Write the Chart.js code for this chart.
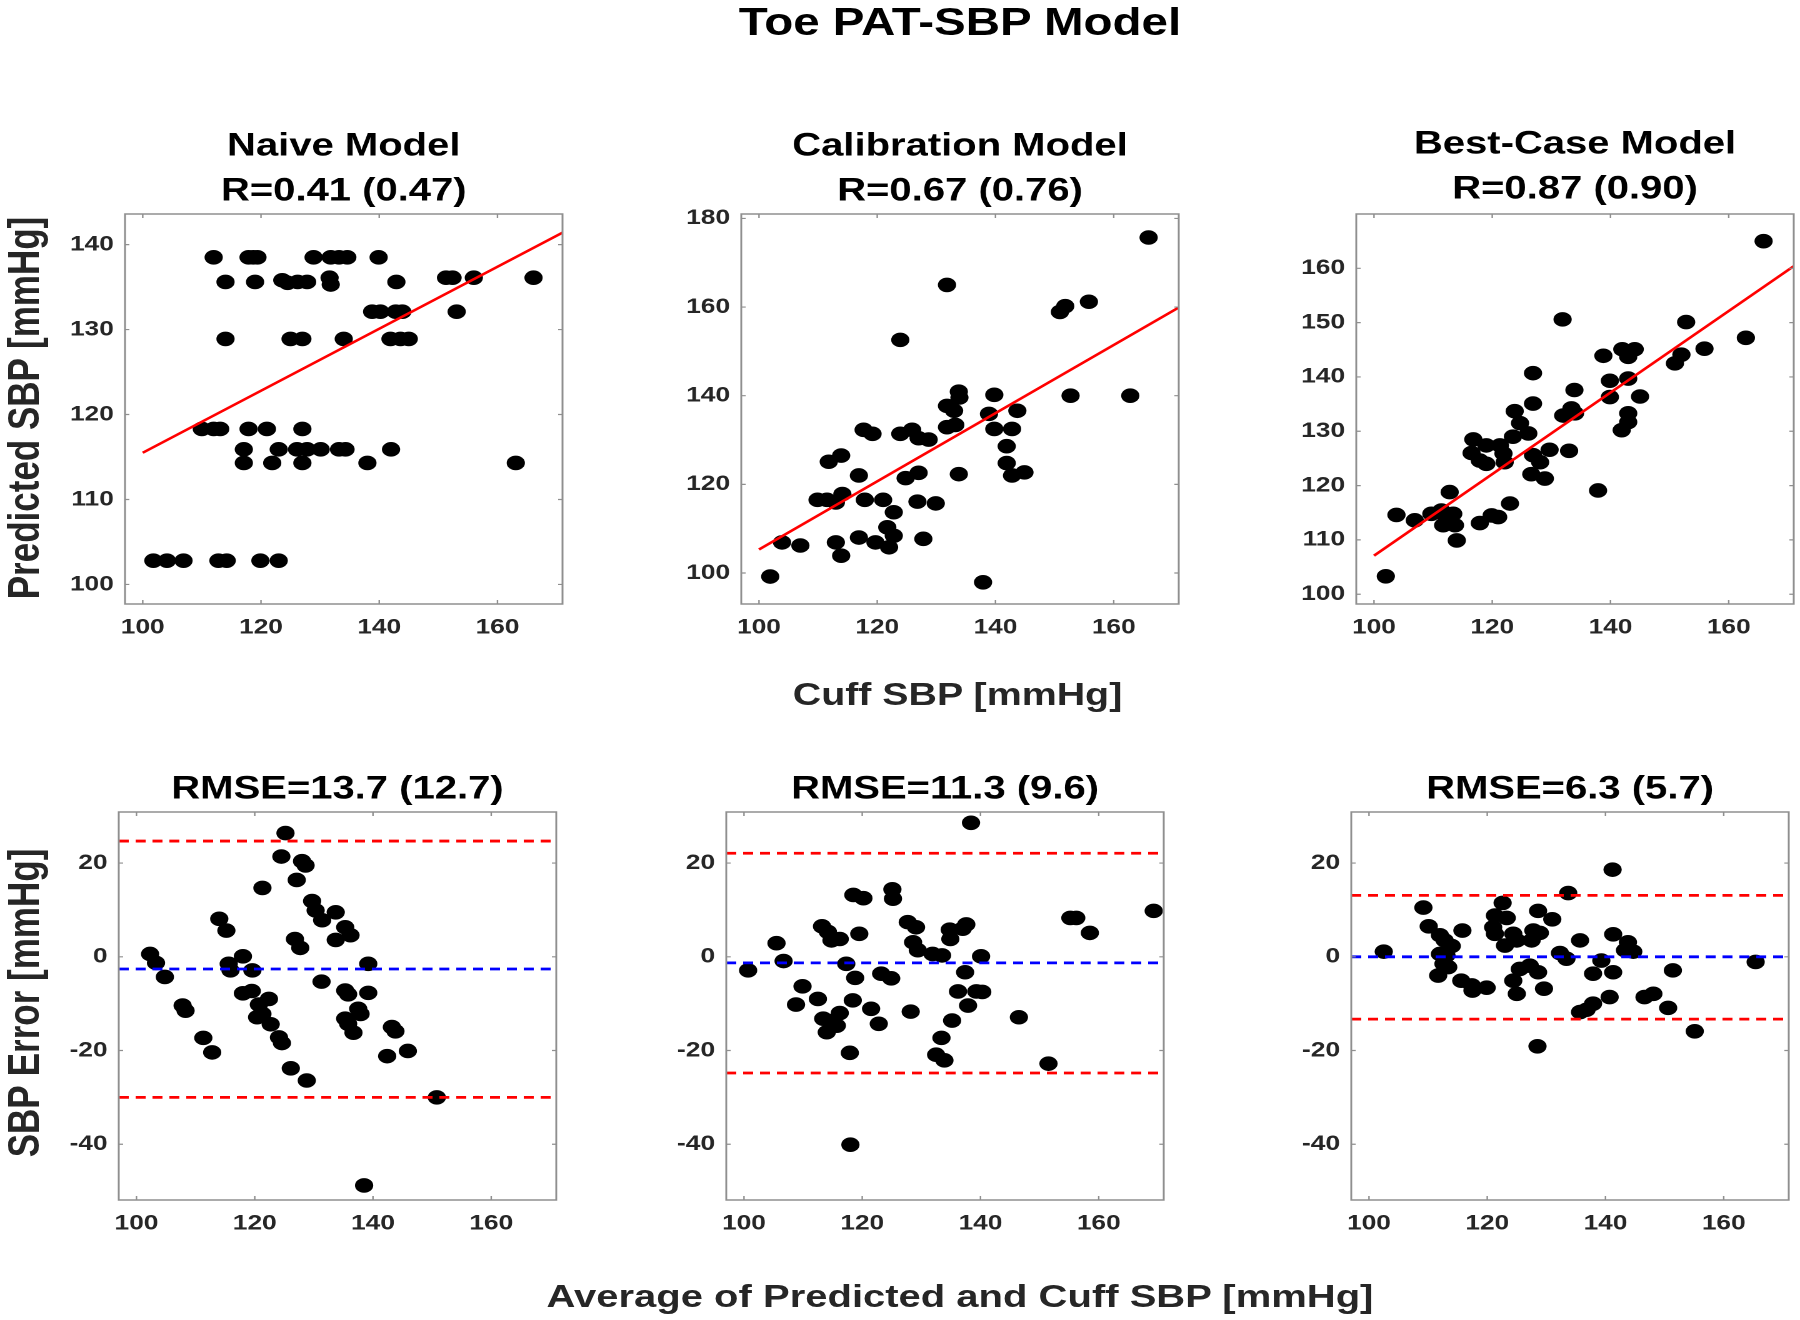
<!DOCTYPE html>
<html>
<head>
<meta charset="utf-8">
<title>Toe PAT-SBP Model</title>
<script src="https://cdn.jsdelivr.net/npm/chart.js@4.4.1/dist/chart.umd.min.js"></script>
<style>
  html, body { margin: 0; padding: 0; background: #fff; overflow: hidden; }
  body { width: 1800px; height: 1320px; }
  /* the source figure is stretched sideways, so draw narrow and widen it */
  #fig { position: relative; width: 1440px; height: 1320px; transform: scaleX(1.25); transform-origin: 0 0;
         font-family: "Liberation Sans", Arial, sans-serif; font-weight: bold; }
  .panel { position: absolute; }
  .lbl { position: absolute; white-space: nowrap; line-height: 1; }
  .ctr { transform: translateX(-50%); }
  .rot { transform: translate(-50%, -50%) rotate(-90deg); }
</style>
</head>
<body>
<div id="fig">
  <div class="lbl ctr" style="left:768px;top:3px;font-size:38px;color:#000">Toe PAT-SBP Model</div>
  <div class="lbl ctr" style="left:766px;top:678.5px;font-size:31.5px;color:#262626">Cuff SBP [mmHg]</div>
  <div class="lbl ctr" style="left:768px;top:1280px;font-size:32px;color:#262626">Average of Predicted and Cuff SBP [mmHg]</div>
  <div class="lbl rot" style="left:19px;top:408px;font-size:35px;color:#262626">Predicted SBP [mmHg]</div>
  <div class="lbl rot" style="left:19px;top:1003px;font-size:35px;color:#262626">SBP Error [mmHg]</div>

  <div class="panel" style="left:40px;top:124px"><canvas id="c1" width="420" height="520"></canvas></div>
  <div class="panel" style="left:532.6px;top:124px"><canvas id="c2" width="420" height="520"></canvas></div>
  <div class="panel" style="left:1024.8px;top:122px"><canvas id="c3" width="420" height="522"></canvas></div>
  <div class="panel" style="left:35.4px;top:767px"><canvas id="c4" width="420" height="473"></canvas></div>
  <div class="panel" style="left:521.4px;top:767px"><canvas id="c5" width="420" height="473"></canvas></div>
  <div class="panel" style="left:1020.8px;top:767px"><canvas id="c6" width="420" height="473"></canvas></div>
</div>

<script>
// x range shared by all six panels
const X_MIN = 97, X_MAX = 171;
const xTicks = [100, 120, 140, 160];
const yTicksNaive = [100, 110, 120, 130, 140];
const yTicksCalib = [100, 120, 140, 160, 180];
const yTicksBest = [100, 110, 120, 130, 140, 150, 160];
const yTicksErr = [-40, -20, 0, 20];

// top row: [cuff SBP, predicted SBP]
const naivePts = [
  [112.0,138.5],[117.9,138.5],[118.7,138.5],[119.4,138.5],[128.9,138.5],[131.8,138.5],[133.2,138.5],[134.6,138.5],[139.9,138.5],
  [114.0,135.6],[119.0,135.6],[123.6,135.8],[124.5,135.5],[126.2,135.6],[127.8,135.6],[131.6,136.1],[131.8,135.3],[142.9,135.6],
  [151.3,136.1],[152.4,136.1],[156.0,136.1],[166.1,136.1],
  [138.8,132.1],[140.2,132.1],[142.8,132.1],[143.9,132.1],[153.1,132.1],
  [114.0,128.9],[125.0,128.9],[127.0,128.9],[134.0,128.9],[141.9,128.9],[143.6,128.9],[145.0,128.9],
  [110.0,118.3],[112.0,118.3],[113.1,118.3],[117.9,118.3],[121.0,118.3],[127.0,118.3],
  [117.1,115.9],[123.0,115.9],[126.1,115.9],[127.8,115.9],[130.1,115.9],[133.2,115.9],[134.3,115.9],[142.0,115.9],
  [117.1,114.3],[121.9,114.3],[127.0,114.3],[138.0,114.3],[163.1,114.3],
  [101.8,102.8],[104.1,102.8],[106.9,102.8],[112.8,102.8],[114.2,102.8],[119.9,102.8],[123.0,102.8]
];
const calibPts = [
  [165.9,175.7],[131.8,165.0],[150.9,158.9],[151.8,160.2],[155.8,161.2],[123.9,152.6],
  [133.8,140.9],[133.9,139.6],[139.8,140.2],[152.7,140.0],[162.8,140.0],
  [131.8,137.7],[133.0,136.6],[138.9,135.9],[143.7,136.6],
  [131.8,132.9],[133.2,133.4],[139.8,132.5],[142.8,132.5],
  [117.7,132.3],[119.2,131.4],[123.9,131.4],[125.9,132.3],[127.0,130.4],[128.7,130.1],
  [141.9,128.6],[141.9,124.8],[142.8,122.0],[144.9,122.7],[133.8,122.3],
  [111.8,125.1],[113.9,126.5],[116.9,122.0],[124.8,121.4],[127.0,122.6],
  [109.9,116.5],[111.5,116.5],[113.0,115.9],[114.1,117.8],[117.9,116.5],[121.0,116.5],[126.8,116.1],[129.9,115.7],
  [122.8,113.7],[121.7,110.3],[122.8,108.4],[122.0,105.8],[119.7,106.9],[116.9,108.0],[127.8,107.7],
  [113.0,106.9],[113.9,103.9],[103.9,106.9],[107.0,106.2],[101.9,99.2],[137.9,97.9]
];
const bestPts = [
  [165.9,165.0],[131.9,150.6],[152.8,150.1],[162.9,147.2],[155.9,145.2],[150.9,142.5],[152.0,144.1],
  [138.8,143.9],[142.0,145.1],[143.0,143.7],[144.1,145.1],[126.9,140.7],[139.9,139.3],[139.9,136.3],
  [143.0,139.7],[145.0,136.4],[133.9,137.6],[126.9,135.1],[123.8,133.7],[132.0,132.9],[133.4,134.2],[134.0,133.3],
  [143.0,133.3],[143.0,131.7],[141.9,130.2],[124.7,131.5],[126.1,129.6],[123.5,129.0],
  [116.8,128.5],[119.0,127.4],[121.3,127.4],[121.9,125.9],[122.1,124.3],[116.5,126.0],[117.9,124.6],[119.0,124.0],
  [129.7,126.6],[133.0,126.4],[126.9,125.6],[128.1,124.3],[126.6,122.1],[128.9,121.3],[137.9,119.1],
  [112.8,118.8],[123.0,116.7],[103.8,114.6],[106.9,113.6],[109.7,114.8],[111.4,115.4],[112.3,113.9],[113.4,114.8],
  [111.7,112.7],[113.7,112.7],[114.0,109.9],[117.9,113.1],[119.9,114.5],[121.0,114.2],[102.0,103.3]
];
// fitted lines, read at both ends
const naiveFit = [[100, 115.5], [171, 141.4]];
const calibFit = [[100, 105.3], [171, 159.9]];
const bestFit = [[100, 107.1], [171, 160.4]];

// bottom row: [average SBP, error]
const naiveErr = [
  [125.2,26.4],[124.5,21.4],[128.0,20.4],[128.6,19.5],[127.1,16.4],[121.3,14.7],[129.7,11.9],[130.3,9.9],[131.4,7.8],
  [133.7,9.5],[135.3,6.3],[136.2,4.6],[133.7,3.6],[114.0,8.1],[115.2,5.6],[126.8,3.8],[127.7,1.9],
  [102.3,0.6],[103.3,-1.3],[104.8,-4.3],[115.6,-1.5],[115.9,-2.9],[118.0,0.1],[119.6,-2.9],[139.2,-1.5],
  [131.3,-5.3],[135.3,-7.2],[135.8,-8.0],[139.2,-7.7],[118.0,-7.8],[119.5,-7.3],
  [122.4,-9.0],[120.7,-10.2],[121.3,-12.2],[120.4,-12.9],[122.7,-14.4],[107.8,-10.4],[108.3,-11.5],
  [137.5,-11.1],[137.9,-12.2],[135.3,-13.2],[135.8,-14.3],[136.7,-16.2],[143.2,-15.0],[143.8,-15.9],
  [111.3,-17.3],[112.8,-20.4],[124.1,-17.2],[124.6,-18.4],[142.4,-21.2],[145.9,-20.1],[126.1,-23.8],[128.8,-26.4],
  [150.8,-30.0],[138.5,-48.8]
];
const calibErr = [
  [138.4,28.6],[118.5,13.2],[120.2,12.5],[125.1,14.4],[125.2,12.4],[169.3,9.8],[155.2,8.3],[156.2,8.3],[158.5,5.1],
  [113.2,6.5],[114.2,5.3],[114.8,3.5],[116.2,3.8],[105.5,2.9],[106.7,-0.9],[119.5,4.9],
  [127.7,7.4],[129.1,6.3],[128.6,3.1],[129.4,1.4],[131.9,0.6],[133.5,0.3],[134.8,5.8],[134.9,3.8],[137.6,6.9],[137.0,6.0],
  [140.1,0.1],[100.7,-2.9],[117.3,-1.5],[118.8,-4.5],[123.2,-3.6],[124.9,-4.6],[137.4,-3.3],[109.9,-6.3],
  [136.2,-7.4],[139.3,-7.4],[140.3,-7.5],[137.9,-10.4],[108.8,-10.2],[112.5,-9.0],[118.4,-9.3],[121.5,-11.1],[128.2,-11.7],
  [113.4,-13.2],[116.2,-12.0],[114.0,-16.1],[115.7,-14.7],[114.8,-13.7],[122.8,-14.3],[135.2,-13.6],[146.5,-12.9],
  [133.4,-17.3],[132.5,-20.9],[133.9,-22.1],[117.9,-20.5],[151.5,-22.8],[118.0,-40.1]
];
const bestErr = [
  [102.5,1.1],[109.2,10.5],[110.1,6.5],[112.0,4.6],[112.8,3.5],[114.0,2.3],[113.1,0.3],[112.0,0.6],[112.6,-1.5],[111.7,-4.0],[113.4,-2.2],
  [115.8,5.6],[115.6,-5.1],[117.4,-6.1],[117.5,-7.2],[119.9,-6.6],[122.6,11.5],[121.3,8.8],[123.3,8.3],[121.0,6.3],[121.3,4.9],
  [123.0,2.4],[124.4,4.9],[125.0,3.5],[128.6,9.8],[131.0,8.0],[127.8,5.6],[128.9,5.1],[127.5,3.5],[132.3,0.8],[133.4,-0.4],
  [133.7,13.6],[135.7,3.5],[139.3,-0.8],[137.9,-3.6],[141.3,-3.3],[141.2,18.6],[141.3,4.8],[143.8,3.1],[143.3,1.4],[144.7,1.1],
  [124.4,-5.1],[125.5,-2.6],[127.2,-1.9],[128.6,-3.3],[125.0,-7.9],[129.6,-6.8],[140.7,-8.6],[137.9,-10.0],[136.8,-11.3],[135.7,-11.8],
  [146.6,-8.6],[148.1,-7.9],[151.4,-2.9],[150.6,-10.9],[155.1,-15.9],[128.5,-19.1],[165.4,-1.1]
];
// limits of agreement: [upper, mean, lower]
const naiveLoA = [24.7, -2.6, -30.0];
const calibLoA = [22.1, -1.3, -24.8];
const bestLoA = [13.1, 0.0, -13.3];

Chart.defaults.font.family = '"Liberation Sans", Arial, sans-serif';

// matlab style box with inward ticks on all four sides
const boxTicks = {
  id: 'boxTicks',
  afterDraw(chart) {
    const { ctx, chartArea: a, scales: { x, y } } = chart;
    ctx.save();
    ctx.strokeStyle = '#8f8f8f';
    ctx.lineWidth = 1.5;
    ctx.strokeRect(a.left, a.top, a.right - a.left, a.bottom - a.top);
    ctx.lineWidth = 1.2;
    ctx.beginPath();
    x.ticks.forEach(t => {
      const px = x.getPixelForValue(t.value);
      ctx.moveTo(px, a.bottom); ctx.lineTo(px, a.bottom - 4);
      ctx.moveTo(px, a.top); ctx.lineTo(px, a.top + 4);
    });
    y.ticks.forEach(t => {
      const py = y.getPixelForValue(t.value);
      ctx.moveTo(a.left, py); ctx.lineTo(a.left + 3.5, py);
      ctx.moveTo(a.right, py); ctx.lineTo(a.right - 3.5, py);
    });
    ctx.stroke();
    ctx.restore();
  }
};

const toXY = pts => pts.map(([x, y]) => ({ x, y }));

function panel(id, cfg) {
  const lineSets = cfg.lines.map(l => ({
    type: 'line',
    data: toXY(l.data),
    borderColor: l.color,
    borderWidth: l.dash ? 2.8 : 2.5,
    borderDash: l.dash || [],
    pointRadius: 0,
    fill: false,
    order: 1
  }));
  return new Chart(document.getElementById(id), {
    type: 'scatter',
    data: {
      datasets: [{
        data: toXY(cfg.points),
        pointRadius: 7.3,
        pointHoverRadius: 7.3,
        pointBackgroundColor: '#000',
        pointBorderWidth: 0,
        order: 2
      }, ...lineSets]
    },
    options: {
      responsive: false,
      animation: false,
      devicePixelRatio: 2,
      layout: { padding: { left: 0, right: 10, top: 0, bottom: 0 } },
      plugins: {
        legend: { display: false },
        tooltip: { enabled: false },
        title: {
          display: true,
          fullSize: false,
          text: cfg.title,
          color: '#000',
          font: { size: 32, weight: 'bold', lineHeight: '45px' },
          padding: { top: 0, bottom: cfg.titlePad }
        }
      },
      scales: {
        x: {
          type: 'linear', min: X_MIN, max: X_MAX,
          grid: { display: false, drawTicks: false },
          border: { display: false },
          afterBuildTicks: s => { s.ticks = xTicks.map(v => ({ value: v })); },
          afterFit: s => { s.height = 40; },
          ticks: { padding: 11, maxRotation: 0, color: '#262626', font: { size: 21, weight: 'bold' } }
        },
        y: {
          type: 'linear', min: cfg.yMin, max: cfg.yMax,
          grid: { display: false, drawTicks: false },
          border: { display: false },
          afterBuildTicks: s => { s.ticks = cfg.yTicks.map(v => ({ value: v })); },
          afterFit: s => { s.width = 60; },
          ticks: { padding: 9, color: '#262626', font: { size: 21, weight: 'bold' } }
        }
      }
    },
    plugins: [boxTicks]
  });
}

const loaLines = loa => [
  { data: [[X_MIN, loa[0]], [X_MAX, loa[0]]], color: '#ff0000', dash: [8, 5.5] },
  { data: [[X_MIN, loa[1]], [X_MAX, loa[1]]], color: '#0000ff', dash: [8, 5.5] },
  { data: [[X_MIN, loa[2]], [X_MAX, loa[2]]], color: '#ff0000', dash: [8, 5.5] }
];

panel('c1', { title: ['Naive Model', 'R=0.41 (0.47)'], titlePad: 0, points: naivePts,
  lines: [{ data: naiveFit, color: '#ff0000' }], yMin: 97.7, yMax: 143.6, yTicks: yTicksNaive });
panel('c2', { title: ['Calibration Model', 'R=0.67 (0.76)'], titlePad: 0, points: calibPts,
  lines: [{ data: calibFit, color: '#ff0000' }], yMin: 93, yMax: 181, yTicks: yTicksCalib });
panel('c3', { title: ['Best-Case Model', 'R=0.87 (0.90)'], titlePad: 2, points: bestPts,
  lines: [{ data: bestFit, color: '#ff0000' }], yMin: 98.2, yMax: 170, yTicks: yTicksBest });

panel('c4', { title: 'RMSE=13.7 (12.7)', titlePad: 0, points: naiveErr,
  lines: loaLines(naiveLoA), yMin: -51.9, yMax: 30.9, yTicks: yTicksErr });
panel('c5', { title: 'RMSE=11.3 (9.6)', titlePad: 0, points: calibErr,
  lines: loaLines(calibLoA), yMin: -51.9, yMax: 30.9, yTicks: yTicksErr });
panel('c6', { title: 'RMSE=6.3 (5.7)', titlePad: 0, points: bestErr,
  lines: loaLines(bestLoA), yMin: -51.9, yMax: 30.9, yTicks: yTicksErr });
</script>
</body>
</html>
